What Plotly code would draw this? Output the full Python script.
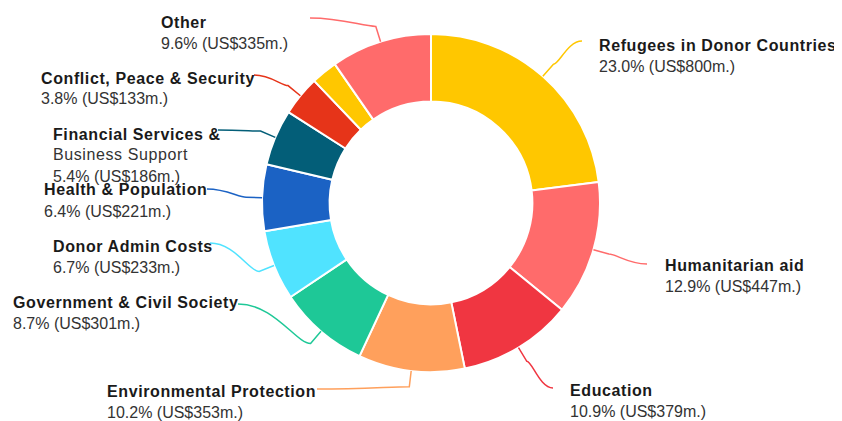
import math
import plotly.graph_objects as go

# ---- data ----
sectors = [
    "Refugees in Donor Countries",
    "Humanitarian aid",
    "Education",
    "Environmental Protection",
    "Government & Civil Society",
    "Donor Admin Costs",
    "Health & Population",
    "Financial Services & Business Support",
    "Conflict, Peace & Security",
    "Unlabelled sector",
    "Other",
]
values_usd_m = [800, 447, 379, 353, 301, 233, 221, 186, 133, 87, 335]
percent_labels = ["23.0%", "12.9%", "10.9%", "10.2%", "8.7%", "6.7%", "6.4%", "5.4%", "3.8%", None, "9.6%"]
name_lines = [
    ["Refugees in Donor Countries"],
    ["Humanitarian aid"],
    ["Education"],
    ["Environmental Protection"],
    ["Government & Civil Society"],
    ["Donor Admin Costs"],
    ["Health & Population"],
    ["Financial Services &", "Business Support"],
    ["Conflict, Peace & Security"],
    None,
    ["Other"],
]

# ---- style / layout ----
colors = ["#FFC700", "#FF6B6B", "#F03641", "#FFA05C", "#1EC897", "#50E3FF",
          "#1B62C4", "#035E78", "#E63419", "#FFC700", "#FF6B6B"]
OFF = 8  # default page body margin
W, H = 842 - OFF, 421 - OFF
CX, CY, R = 431, 203, 169
HOLE = 0.6
# label text left x, first line centre y, connector end point (pixels of the window)
label_pos = [
    (597, 45, 582, 41),
    (663, 265, 647, 264),
    (568, 390, 553, 388),
    (105, 391, 317, 389),
    (11, 302, 238, 304),
    (51, 246, 210, 243),
    (42, 190, 207, 189),
    (51, 134, 218, 130),
    (39, 78, 254, 75),
    None,
    (159, 22, 310, 18),
]
LINE_H = 21
FONT = "Liberation Sans, Arial, sans-serif"


def px(x):
    return (x - OFF) / W


def py(y):
    return 1 - (y - OFF) / H


fig = go.Figure(go.Pie(
    labels=sectors,
    values=values_usd_m,
    hole=HOLE,
    sort=False,
    direction="clockwise",
    rotation=0,
    textinfo="none",
    marker=dict(colors=colors, line=dict(color="white", width=2)),
    domain=dict(x=[px(CX - R), px(CX + R)], y=[py(CY + R), py(CY - R)]),
    showlegend=False,
))

total = sum(values_usd_m)
annotations = []
shapes = []
cum = 0
for i, v in enumerate(values_usd_m):
    mid = (cum + v / 2) / total * 2 * math.pi
    cum += v
    if label_pos[i] is None:
        continue
    tx, ty, ex, ey = label_pos[i]
    lines = name_lines[i]
    for j, ln in enumerate(lines):
        inner = f"<b>{ln}</b>" if j == 0 else ln
        txt = f'<span style="letter-spacing:0.6px">{inner}</span>'
        annotations.append(dict(
            x=px(tx), y=py(ty + j * LINE_H), xref="paper", yref="paper",
            text=txt, showarrow=False, xanchor="left", yanchor="middle",
            font=dict(family=FONT, size=16, color="#1a1a1a" if j == 0 else "#333333"),
        ))
    annotations.append(dict(
        x=px(tx), y=py(ty + len(lines) * LINE_H), xref="paper", yref="paper",
        text=f"{percent_labels[i]} (US${values_usd_m[i]}m.)", showarrow=False,
        xanchor="left", yanchor="middle",
        font=dict(family=FONT, size=16, color="#333333"),
    ))
    ux, uy = math.sin(mid), -math.cos(mid)
    p0 = (CX + R * ux, CY + R * uy)
    p1 = (CX + (R + 16) * ux, CY + (R + 16) * uy)
    dx = p1[0] - ex
    c1 = (ex + dx * 0.5, ey)
    c2 = (p1[0] - dx * 0.2, p1[1])
    path = (f"M {px(ex)},{py(ey)} C {px(c1[0])},{py(c1[1])} {px(c2[0])},{py(c2[1])} "
            f"{px(p1[0])},{py(p1[1])} L {px(p0[0])},{py(p0[1])}")
    shapes.append(dict(type="path", path=path, xref="paper", yref="paper",
                       line=dict(color=colors[i], width=1.5)))

fig.update_layout(
    width=W, height=H,
    margin=dict(l=0, r=0, t=0, b=0),
    paper_bgcolor="white", plot_bgcolor="white",
    annotations=annotations, shapes=shapes,
)
fig.write_html("out.html")
